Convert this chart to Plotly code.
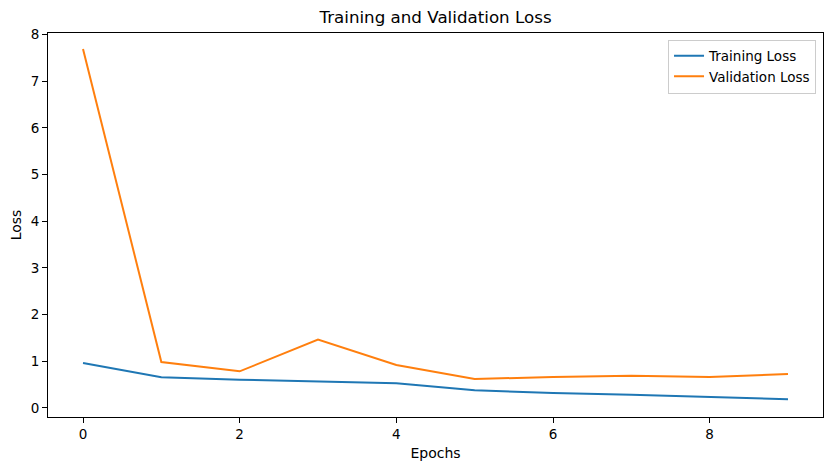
import plotly.graph_objects as go

epochs = [0, 1, 2, 3, 4, 5, 6, 7, 8, 9]
training_loss = [0.964, 0.657, 0.607, 0.571, 0.529, 0.379, 0.321, 0.286, 0.243, 0.186]
validation_loss = [7.69, 0.986, 0.786, 1.464, 0.921, 0.621, 0.664, 0.693, 0.664, 0.729]
x_ticks = [0, 2, 4, 6, 8]
y_ticks = [0, 1, 2, 3, 4, 5, 6, 7, 8]

FONT = "DejaVu Sans"

fig = go.Figure()
fig.add_trace(go.Scatter(x=epochs, y=training_loss, mode="lines", name="Training Loss",
                         line=dict(color="#1f77b4", width=2)))
fig.add_trace(go.Scatter(x=epochs, y=validation_loss, mode="lines", name="Validation Loss",
                         line=dict(color="#ff7f0e", width=2)))

axis_common = dict(showgrid=False, zeroline=False, showline=True, linecolor="black", linewidth=1,
                   mirror=True, ticks="outside", ticklen=5, tickwidth=1, tickcolor="black",
                   automargin=False,
                   tickfont=dict(family=FONT, size=13.5, color="black"))

fig.update_layout(
    width=833, height=470,
    margin=dict(l=40, r=18, t=25, b=61),
    paper_bgcolor="white", plot_bgcolor="white",
    font=dict(family=FONT, color="black"),
    title=dict(text="Training and Validation Loss", x=427.5 / 833, xanchor="center",
               y=1 - 9 / 470, yanchor="middle", font=dict(family=FONT, size=16.7, color="black")),
    xaxis=dict(range=[-0.447, 9.447], tickvals=x_ticks,
               title=dict(text="Epochs", font=dict(family=FONT, size=14, color="black"), standoff=6),
               **axis_common),
    yaxis=dict(range=[-0.193, 8.035], tickvals=y_ticks,
               title=dict(text="Loss", font=dict(family=FONT, size=14, color="black"), standoff=8),
               **axis_common),
    legend=dict(x=0.991, xanchor="right", y=0.983, yanchor="top", bgcolor="rgba(255,255,255,0.8)",
                bordercolor="#cccccc", borderwidth=1, font=dict(family=FONT, size=13.5, color="black"),
                tracegroupgap=0),
    showlegend=True,
)

fig.write_html("out.html")
